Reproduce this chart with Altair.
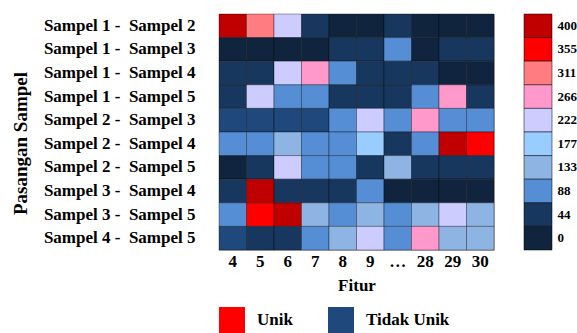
import altair as alt
import pandas as pd

GAP = "\u00a0" * 2
features = ["4", "5", "6", "7", "8", "9", "…", "28", "29", "30"]
pairs = [
    "Sampel 1 -" + GAP + "Sampel 2",
    "Sampel 1 -" + GAP + "Sampel 3",
    "Sampel 1 -" + GAP + "Sampel 4",
    "Sampel 1 -" + GAP + "Sampel 5",
    "Sampel 2 -" + GAP + "Sampel 3",
    "Sampel 2 -" + GAP + "Sampel 4",
    "Sampel 2 -" + GAP + "Sampel 5",
    "Sampel 3 -" + GAP + "Sampel 4",
    "Sampel 3 -" + GAP + "Sampel 5",
    "Sampel 4 -" + GAP + "Sampel 5",
]
values = [
    [400, 311, 222, 44, 0, 0, 44, 0, 0, 0],
    [0, 0, 0, 0, 44, 44, 88, 0, 44, 44],
    [44, 44, 222, 266, 88, 44, 44, 44, 0, 0],
    [44, 222, 88, 88, 44, 44, 44, 88, 266, 44],
    [66, 66, 66, 66, 88, 222, 88, 266, 88, 88],
    [88, 88, 133, 88, 88, 177, 44, 88, 400, 355],
    [0, 44, 222, 88, 88, 44, 133, 44, 44, 44],
    [44, 400, 44, 44, 44, 88, 0, 0, 0, 0],
    [88, 355, 400, 133, 88, 133, 88, 133, 222, 133],
    [66, 44, 44, 88, 133, 222, 88, 266, 133, 133],
]
level_values = [0, 44, 66, 88, 133, 177, 222, 266, 311, 355, 400]
level_colors = ["#10243E", "#17375E", "#1F497D", "#558ED5", "#8EB4E3", "#99CCFF",
                "#CCCCFF", "#FF99CC", "#FF7C80", "#FF0000", "#C00000"]
bar_labels = ["400", "355", "311", "266", "222", "177", "133", "88", "44", "0"]
bar_colors = ["#C00000", "#FF0000", "#FF7C80", "#FF99CC", "#CCCCFF", "#99CCFF",
              "#8EB4E3", "#558ED5", "#17375E", "#10243E"]
legend_names = ["Unik", "Tidak Unik"]
legend_colors = ["#FF0000", "#1F497D"]

FONT = "Liberation Serif"

rows = []
for p, vals in zip(pairs, values):
    for f, v in zip(features, vals):
        rows.append({"pasangan": p, "fitur": f, "nilai": v})
df = pd.DataFrame(rows)

heat = alt.Chart(df, view=alt.ViewBackground(stroke="#b0b0b0", strokeWidth=1)).mark_rect(
    stroke="#000000", strokeWidth=1, strokeOpacity=0.35
).encode(
    x=alt.X("fitur:O", sort=features, title="Fitur",
            axis=alt.Axis(labelAngle=0, ticks=False, domain=False, labelPadding=3,
                          titlePadding=8, labelFont=FONT, labelFontSize=17,
                          labelFontWeight="bold", labelColor="#000",
                          titleFont=FONT, titleFontSize=17, titleFontWeight="bold",
                          titleColor="#000")),
    y=alt.Y("pasangan:O", sort=pairs, title="Pasangan Sampel",
            axis=alt.Axis(ticks=False, domain=False, labelPadding=24, titlePadding=13,
                          labelFont=FONT, labelFontSize=17, labelFontWeight="bold",
                          labelColor="#000", titleFont=FONT, titleFontSize=19,
                          titleFontWeight="bold", titleColor="#000", titleY=129)),
    color=alt.Color("nilai:O", scale=alt.Scale(domain=level_values, range=level_colors),
                    legend=None),
)

leg_df = pd.DataFrame({"kategori": legend_names})
dummy = alt.Chart(leg_df).mark_square(opacity=0).encode(
    x=alt.value(0), y=alt.value(0),
    fill=alt.Fill("kategori:N", sort=legend_names,
                  scale=alt.Scale(domain=legend_names, range=legend_colors),
                  legend=alt.Legend(orient="none", legendX=0, legendY=293,
                                    direction="horizontal", title=None,
                                    symbolType="square", symbolSize=676,
                                    symbolOpacity=1, symbolStrokeWidth=0,
                                    labelFont=FONT, labelFontSize=17,
                                    labelFontWeight="bold", labelColor="#000",
                                    labelOffset=12, columnPadding=35)),
)

main = alt.layer(heat, dummy).properties(width=275, height=236)

bar_df = pd.DataFrame({"label": bar_labels, "warna": bar_colors})
bar = alt.Chart(bar_df, view=alt.ViewBackground(stroke="transparent")).mark_rect(
    stroke="#000000", strokeWidth=1, strokeOpacity=0.5
).encode(
    y=alt.Y("label:O", sort=bar_labels, title=None,
            axis=alt.Axis(orient="right", ticks=False, domain=False, labelPadding=5,
                          labelFont=FONT, labelFontSize=13, labelFontWeight="bold",
                          labelColor="#000")),
    color=alt.Color("label:N", scale=alt.Scale(domain=bar_labels, range=bar_colors),
                    legend=None),
).properties(width=28, height=236)

chart = alt.hconcat(main, bar, spacing=28).resolve_scale(color="independent").properties(
    padding={"left": 10, "top": 10, "right": 0, "bottom": 0}
).configure(background="white")

chart.save("out.html", embed_options={"renderer": "svg", "actions": False})
